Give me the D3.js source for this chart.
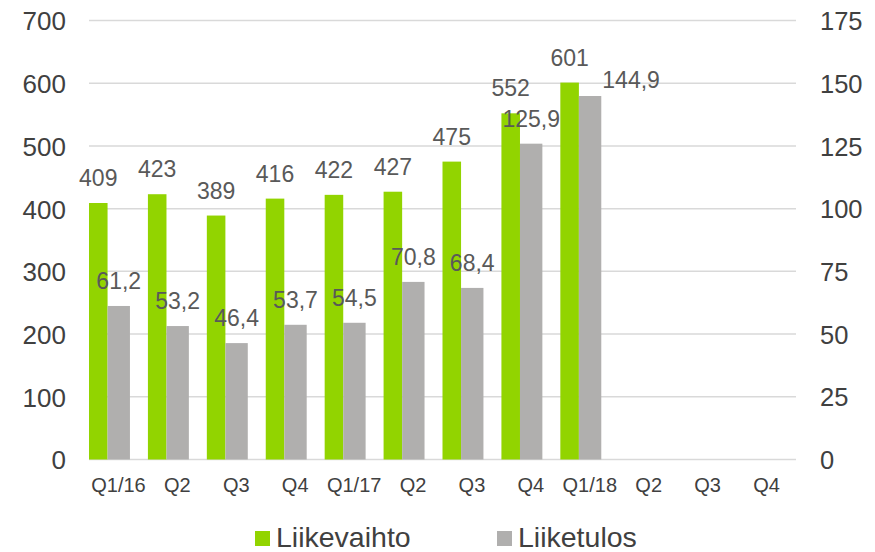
<!DOCTYPE html>
<html>
<head>
<meta charset="utf-8">
<script src="https://cdn.jsdelivr.net/npm/d3@7"></script>
<style>
  body { margin: 0; background: #fff; }
  text { font-family: "Liberation Sans", Arial, sans-serif; }
</style>
</head>
<body>
<script>
const quarters = ["Q1/16", "Q2", "Q3", "Q4", "Q1/17", "Q2", "Q3", "Q4", "Q1/18", "Q2", "Q3", "Q4"];
const liikevaihto = [409, 423, 389, 416, 422, 427, 475, 552, 601];
const liiketulos = [61.2, 53.2, 46.4, 53.7, 54.5, 70.8, 68.4, 125.9, 144.9];
const leftTicks = [0, 100, 200, 300, 400, 500, 600, 700];
const rightTicks = [0, 25, 50, 75, 100, 125, 150, 175];

const W = 875, H = 552;
const green = "#92d400", grey = "#b0afae";

const svg = d3.select("body").append("svg")
    .attr("width", W)
    .attr("height", H);

// band per category, index based since labels repeat
const x = d3.scaleBand()
    .domain(d3.range(quarters.length))
    .range([89, 796])
    .paddingInner(0)
    .paddingOuter(0);

const yL = d3.scaleLinear().domain([0, 700]).range([459.5, 20.5]);
const yR = d3.scaleLinear().domain([0, 175]).range([459.5, 20.5]);

const bw = x.bandwidth();
const gW = bw * 0.315, tW = bw * 0.38;

// gridlines
svg.append("g")
    .selectAll("line")
    .data(leftTicks)
    .join("line")
    .attr("x1", 89).attr("x2", 796)
    .attr("y1", d => yL(d)).attr("y2", d => yL(d))
    .attr("stroke", "#d9d9d9")
    .attr("stroke-width", 1.5);

// left axis
const axL = svg.append("g")
    .attr("transform", "translate(66,0)")
    .call(d3.axisLeft(yL).tickValues(leftTicks).tickSize(0).tickPadding(0));
axL.select(".domain").remove();
axL.selectAll("text")
    .attr("font-size", 26)
    .attr("fill", "#404040")
    .attr("dy", "0.36em");

// right axis
const axR = svg.append("g")
    .attr("transform", "translate(820,0)")
    .call(d3.axisRight(yR).tickValues(rightTicks).tickSize(0).tickPadding(0));
axR.select(".domain").remove();
axR.selectAll("text")
    .attr("font-size", 25.5)
    .attr("fill", "#404040")
    .attr("dy", "0.36em");

// category labels
const axX = svg.append("g")
    .attr("transform", "translate(0,459.5)")
    .call(d3.axisBottom(x).tickFormat(i => quarters[i]).tickSize(0).tickPadding(0));
axX.select(".domain").remove();
axX.selectAll("text")
    .attr("font-size", 20)
    .attr("fill", "#404040")
    .attr("y", 32)
    .attr("dy", 0);

// bars
svg.append("g")
    .selectAll("rect")
    .data(liikevaihto)
    .join("rect")
    .attr("x", (d, i) => x(i))
    .attr("y", d => yL(d))
    .attr("width", gW)
    .attr("height", d => yL(0) - yL(d))
    .attr("fill", green);

svg.append("g")
    .selectAll("rect")
    .data(liiketulos)
    .join("rect")
    .attr("x", (d, i) => x(i) + gW)
    .attr("y", d => yR(d))
    .attr("width", tW)
    .attr("height", d => yR(0) - yR(d))
    .attr("fill", grey);

// data labels
const fmt = v => String(v).replace(".", ",");

svg.append("g")
    .selectAll("text")
    .data(liikevaihto)
    .join("text")
    .attr("x", (d, i) => x(i) + gW / 2)
    .attr("y", d => yL(d) - 17)
    .attr("text-anchor", "middle")
    .attr("font-size", 23)
    .attr("fill", "#595959")
    .text(d => d);

const last = liiketulos.length - 1;
svg.append("g")
    .selectAll("text")
    .data(liiketulos)
    .join("text")
    .attr("x", (d, i) => x(i) + gW + tW / 2 + (i === last ? 41 : 0))
    .attr("y", (d, i) => yR(d) - (i === last ? 8 : 17))
    .attr("text-anchor", "middle")
    .attr("font-size", 23)
    .attr("fill", "#595959")
    .text(d => fmt(d));

// legend
const legend = [
    { name: "Liikevaihto", color: green, x: 255 },
    { name: "Liiketulos", color: grey, x: 497 }
];
const lg = svg.append("g")
    .selectAll("g")
    .data(legend)
    .join("g")
    .attr("transform", d => `translate(${d.x},0)`);
lg.append("rect")
    .attr("x", 0).attr("y", 531)
    .attr("width", 15).attr("height", 15)
    .attr("fill", d => d.color);
lg.append("text")
    .attr("x", 21).attr("y", 547)
    .attr("font-size", 28.5)
    .attr("fill", "#404040")
    .text(d => d.name);
</script>
</body>
</html>
